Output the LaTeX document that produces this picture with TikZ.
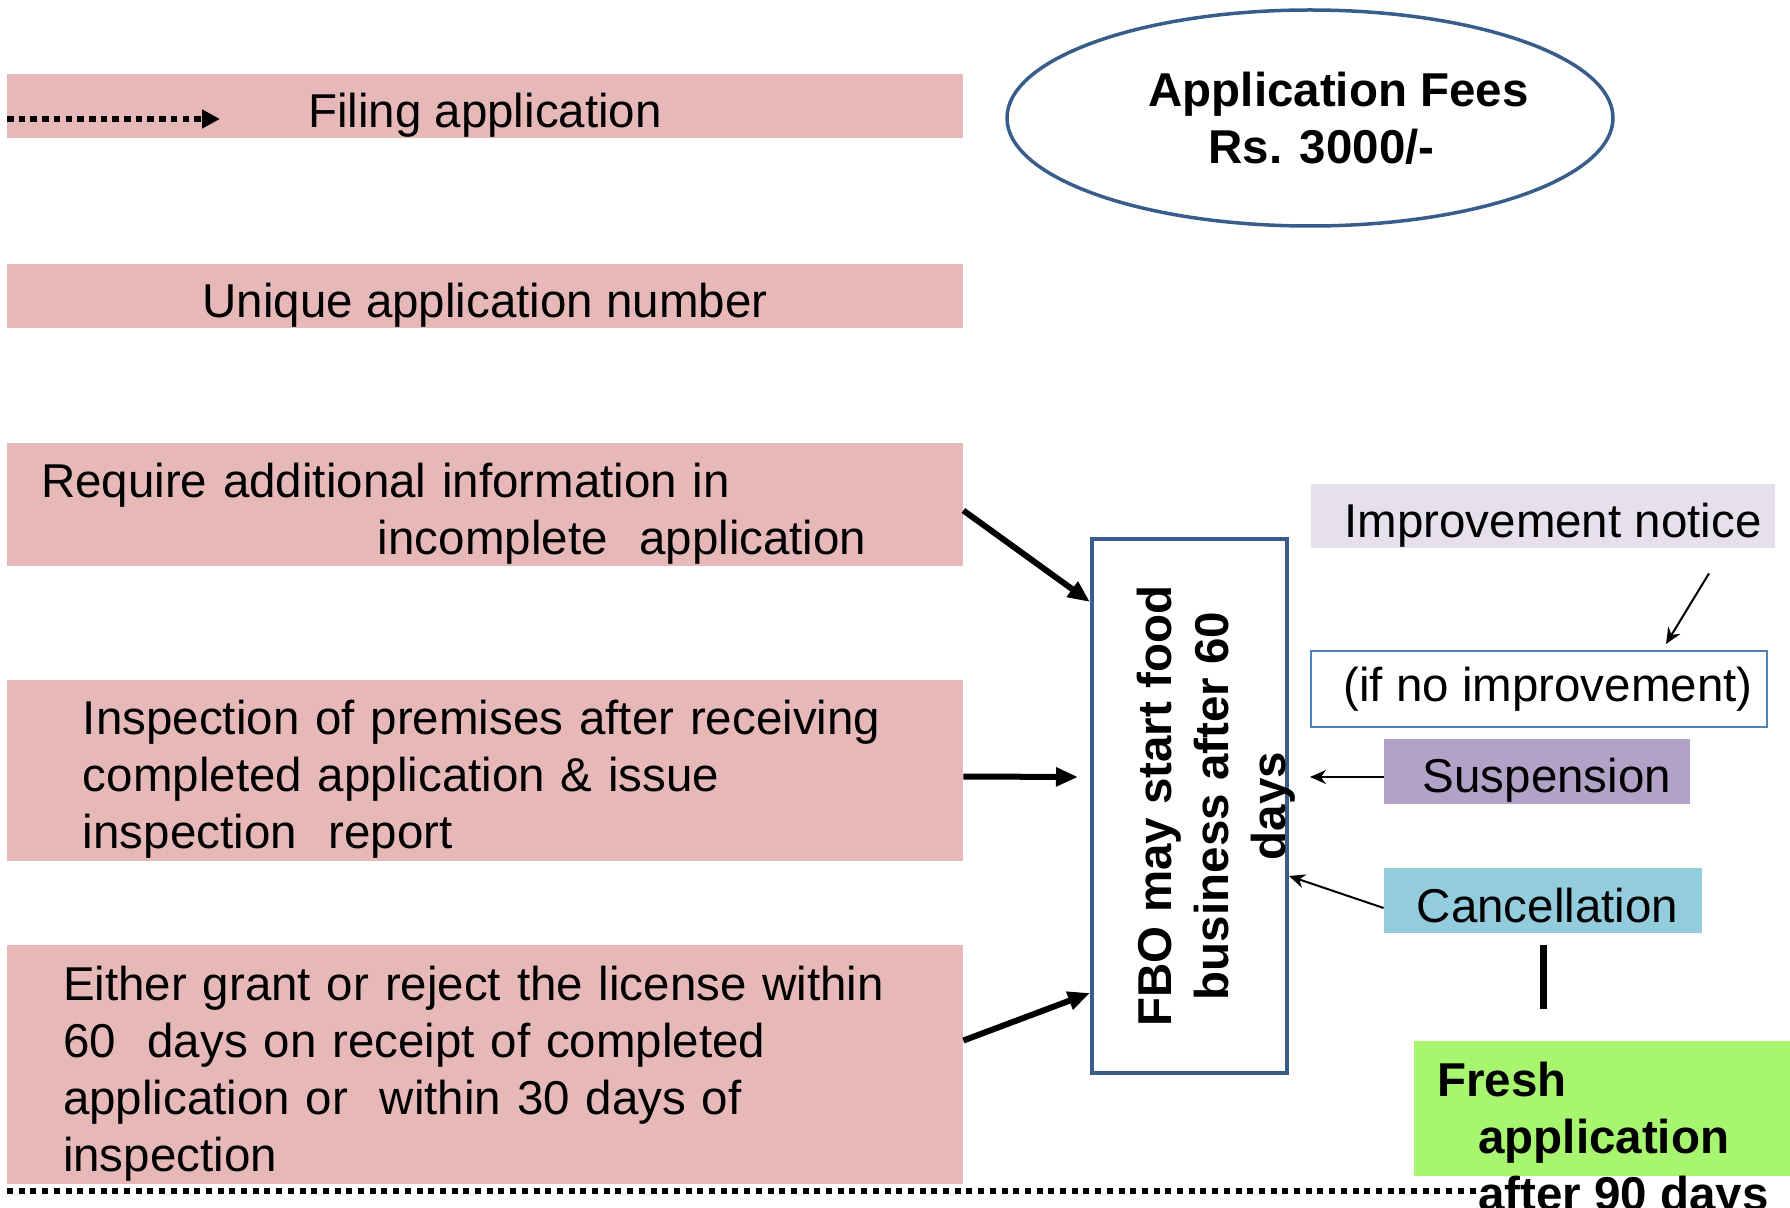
\documentclass[tikz,border=0pt]{standalone}
\usepackage{fontspec}
\setmainfont{Liberation Sans}
\usepackage{xcolor}
\usetikzlibrary{arrows.meta,shapes.geometric}

\definecolor{stagepink}{HTML}{E6B9B8}
\definecolor{noticelilac}{HTML}{E5E0EC}
\definecolor{suspendpurple}{HTML}{B3A2C7}
\definecolor{cancelcyan}{HTML}{93CDDD}
\definecolor{freshgreen}{HTML}{A8F56F}
\definecolor{frameblue}{HTML}{385D8A}
\definecolor{lineblue}{HTML}{4F81BD}

\newcommand{\bigtext}{\fontsize{23.75}{28.5}\selectfont}

\tikzset{
  drop/.style={execute at begin node={\rule{0pt}{#1}}},
  stage/.style={fill=stagepink, minimum width=478pt, minimum height=32pt, inner sep=0pt, font=\bigtext, drop=26pt},
  sidebox/.style={minimum height=32.5pt, inner sep=0pt, font=\bigtext},
  feedarrow/.style={line width=3pt, -{Triangle[length=11pt,width=9pt]}},
  notearrow/.style={line width=1pt, -{Stealth[length=8pt,width=7pt]}},
  dotline/.style={line width=2.6pt, dash pattern=on 3pt off 2.85pt}
}

\begin{document}
\begin{tikzpicture}[x=0.5pt,y=-0.5pt]
      \useasboundingbox (0,0) rectangle (1790,1208);
      \node[stage] (filing) at (485,106) {Filing application};
      \node[stage] (unique) at (485,296) {Unique application number};
      \node[stage, minimum height=61.5pt, inner xsep=17pt, text width=444pt, align=left] (require) at (485,504.5)
        {Require additional information in\\\hspace*{168.5pt}incomplete\ \ application};
      \node[stage, minimum height=90.5pt, inner xsep=38pt, text width=402pt, align=left] (inspect) at (485,770.5)
        {Inspection of premises after receiving\\completed application \& issue\\inspection\ \ report};
      \node[stage, minimum height=119.5pt, inner xsep=28pt, text width=422pt, align=left] (grant) at (485,1064.5)
        {Either grant or reject the license within\\60\ \ days on receipt of completed\\application or\ \ within 30 days of\\inspection};

      \node[ellipse, draw=frameblue, line width=1.75pt, minimum width=303pt, minimum height=108pt, inner xsep=-4pt, inner ysep=0pt,
        font=\bigtext\bfseries, align=center] (fees) at (1310,118)
        {\hspace*{28.5pt}Application Fees\\\hspace*{11.4pt}Rs. 3000/-};

      \node[draw=frameblue, line width=2pt, minimum width=97.5pt, minimum height=267pt, inner sep=0pt] (fbo) at (1189.5,806) {};
      \node[rotate=90, font=\bigtext\bfseries, align=center, inner sep=0pt] (fbotext) at (1216,806)
        {FBO may start food\\business after 60\\days};

      \node[sidebox, fill=noticelilac, minimum width=232pt, minimum height=32pt, drop=26pt] (improve) at (1543,516)
        {\hspace*{10pt}Improvement notice};
      \node[sidebox, draw=lineblue, line width=1pt, minimum width=228pt, minimum height=38pt] (noimprove) at (1539,689)
        {\hspace*{9pt}(if no improvement)};
      \node[sidebox, fill=suspendpurple, minimum width=153pt, drop=26pt] (suspend) at (1537,771.5) {\hspace*{10pt}Suspension};
      \node[sidebox, fill=cancelcyan, minimum width=159pt, drop=22pt] (cancel) at (1543,900.5) {\hspace*{4.5pt}Cancellation};
      \node[fill=freshgreen, minimum width=188pt, minimum height=67.5pt, inner sep=0pt] (fresh) at (1602,1108.5) {};
      \node[anchor=north west, inner sep=0pt, font=\bigtext\bfseries, align=left] (freshtext) at (1437,1062)
        {Fresh\\\hspace*{20.5pt}application\\\hspace*{20.5pt}after 90 days};

      \coordinate (dotstart) at (7,119);
      \coordinate (dotend) at (220,119);
      \coordinate (baseleft) at (7,1191);
      \coordinate (baseright) at (1478,1191);

      \draw[dotline, line width=3pt, dash pattern=on 3.3pt off 2.55pt, -{Triangle[length=9pt,width=9pt]}] (dotstart) -- (dotend);
      \draw[dotline] (baseleft) -- (baseright);

      \draw[feedarrow] ([yshift=-3pt]require.east) -- ([yshift=102pt]fbo.west);
      \draw[feedarrow] ([yshift=-3pt]inspect.east) -- ([xshift=-6pt,yshift=14.5pt]fbo.west);
      \draw[feedarrow] ([yshift=12pt]grant.east) -- ([yshift=-93.5pt]fbo.west);

      \draw[notearrow] ([xshift=83pt,yshift=-12.5pt]improve.south) -- ([xshift=63.5pt,yshift=3pt]noimprove.north);
      \draw[notearrow] ([yshift=-2.75pt]suspend.west) -- ([xshift=10.5pt,yshift=14.5pt]fbo.east);
      \draw[notearrow] ([yshift=-3.75pt]cancel.west) -- ([yshift=-35pt]fbo.east);
      \draw[line width=3.5pt] ([yshift=-6pt]cancel.south) -- ([yshift=-38pt]cancel.south);
\end{tikzpicture}
\end{document}
